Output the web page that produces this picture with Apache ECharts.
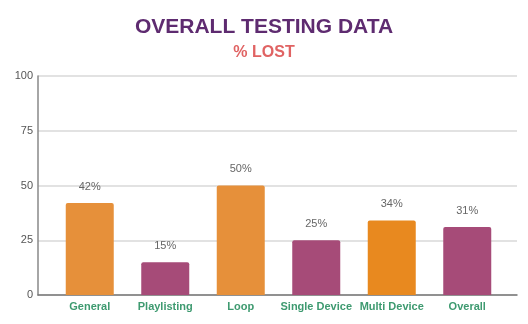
<!DOCTYPE html>
<html><head><meta charset="utf-8">
<script src="https://cdn.jsdelivr.net/npm/echarts@6/dist/echarts.min.js"></script>
<style>html,body{margin:0;padding:0;background:#fff}#c{width:528px;height:324px}</style>
</head><body><div id="c"></div>
<script>
const categories = ['General', 'Playlisting', 'Loop', 'Single Device', 'Multi Device', 'Overall'];
const values = [42, 15, 50, 25, 34, 31];
const barColors = ['#E6903A', '#A64B78', '#E6903A', '#A64B78', '#E8891F', '#A64B78'];
const yTicks = [0, 25, 50, 75, 100];

const chart = echarts.init(document.getElementById('c'));
const font = 'Arial, "Liberation Sans", sans-serif';
chart.setOption({
  animation: false,
  backgroundColor: '#fff',
  title: [
    {text: 'OVERALL TESTING DATA', left: 'center', top: 12,
     textStyle: {fontFamily: font, fontSize: 21, fontWeight: 'bold', color: '#5E2B70'}},
    {text: '% LOST', left: 'center', top: 40,
     textStyle: {fontFamily: font, fontSize: 16, fontWeight: 'bold', color: '#E06363'}}
  ],
  grid: [
    {left: 38, right: 11, top: 76, bottom: 29},
    {left: 52, right: 23, top: 76, bottom: 29}
  ],
  xAxis: [
    {gridIndex: 0, type: 'category', data: [''], axisLine: {lineStyle: {color: '#777', width: 1.5}},
     axisTick: {show: false}, axisLabel: {show: false}},
    {gridIndex: 1, type: 'category', data: categories, axisLine: {show: false}, axisTick: {show: false},
     axisLabel: {interval: 0, fontFamily: font, fontSize: 11, fontWeight: 'bold', color: '#3E9A70', margin: 6}}
  ],
  yAxis: [
    {gridIndex: 0, type: 'value', min: 0, max: 100, interval: 25,
     axisLine: {show: true, lineStyle: {color: '#888', width: 1.5}}, axisTick: {show: false},
     axisLabel: {fontFamily: font, fontSize: 11, color: '#555', margin: 5,
       formatter: v => yTicks.includes(v) ? String(v) : ''},
     splitLine: {lineStyle: {color: '#D8D8D8', width: 1.5}}},
    {gridIndex: 1, type: 'value', min: 0, max: 100, interval: 25, show: false, splitLine: {show: false}}
  ],
  series: [{
    type: 'bar', xAxisIndex: 1, yAxisIndex: 1, barWidth: 48,
    data: values.map((v, i) => ({value: v, itemStyle: {color: barColors[i], borderRadius: [2, 2, 0, 0]}})),
    label: {show: true, position: 'top', distance: 11, formatter: p => p.value + '%',
      fontFamily: font, fontSize: 11, color: '#666'}
  }]
});
</script></body></html>
